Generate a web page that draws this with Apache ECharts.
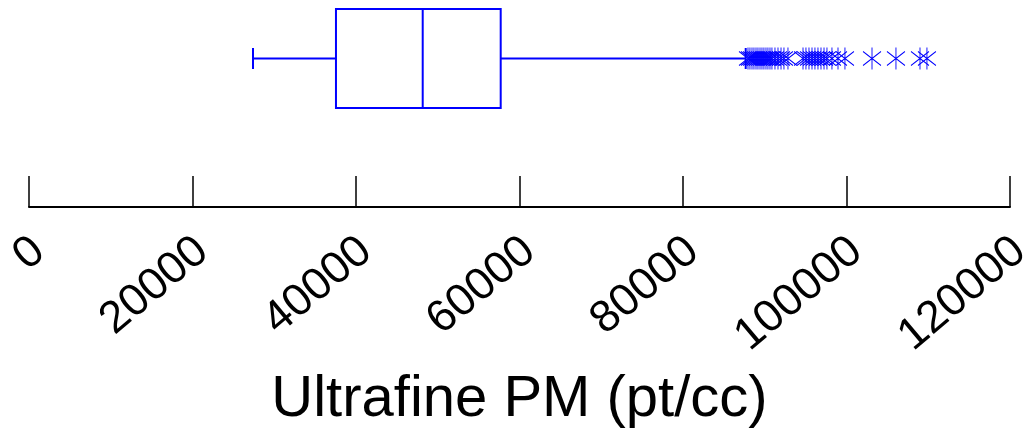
<!DOCTYPE html>
<html>
<head>
<meta charset="utf-8">
<script src="https://cdn.jsdelivr.net/npm/echarts@6/dist/echarts.min.js"></script>
<style>html,body{margin:0;padding:0;background:#fff}#c{width:1031px;height:432px}</style>
</head>
<body>
<div id="c"></div>
<script>
const categories = ['', 'Ultrafine PM'];
const boxStats = [27400, 37550, 48160, 57700, 87670]; // low whisker, Q1, median, Q3, high whisker
const outliers = [87950, 88190, 88440, 88680, 88930, 89170, 89420, 89660, 89900, 90150, 90390,
  90640, 90880, 91250, 91620, 91990, 92350, 92840, 94680, 95040, 95410, 95780, 96140, 96510,
  96880, 97250, 97610, 98220, 98960, 99810, 103120, 106050, 108990, 109840];
const tickValues = [0, 20000, 40000, 60000, 80000, 100000, 120000];
const axisTitle = 'Ultrafine PM (pt/cc)';

const chart = echarts.init(document.getElementById('c'));
const blue = '#0000ff';
chart.setOption({
  animation: false,
  grid: { left: 29, right: 21, top: 9, bottom: 225, containLabel: false, outerBoundsMode: 'none' },
  xAxis: {
    type: 'value', min: tickValues[0], max: tickValues[tickValues.length - 1], interval: 20000,
    axisLine: { show: true, lineStyle: { color: '#000', width: 2 } },
    axisTick: { show: true, inside: true, length: 31, lineStyle: { color: '#000', width: 1.5 } },
    splitLine: { show: false },
    axisLabel: { rotate: 40, margin: 47, fontSize: 45, color: '#000', fontFamily: 'Liberation Sans',
      padding: [0, -13, 0, 0], formatter: v => String(v) },
    name: axisTitle, nameLocation: 'middle', nameGap: 164,
    nameTextStyle: { fontSize: 58, color: '#000', fontFamily: 'Liberation Sans' }
  },
  yAxis: { type: 'category', data: categories, show: false },
  series: [
    {
      type: 'custom',
      data: [[1].concat(boxStats)],
      encode: { x: [1, 2, 3, 4, 5], y: 0 },
      renderItem: function (params, api) {
        const c = api.value(0);
        const p = [1, 2, 3, 4, 5].map(i => api.coord([api.value(i), c]));
        const y = p[0][1];
        const half = api.size([0, 1])[1] / 2;
        const cap = 10.5;
        const st = { stroke: blue, lineWidth: 2, fill: null };
        return {
          type: 'group',
          children: [
            { type: 'rect', shape: { x: p[1][0], y: y - half, width: p[3][0] - p[1][0], height: 2 * half }, style: { stroke: blue, lineWidth: 2, fill: 'none' } },
            { type: 'line', shape: { x1: p[2][0], y1: y - half, x2: p[2][0], y2: y + half }, style: st },
            { type: 'line', shape: { x1: p[0][0], y1: y, x2: p[1][0], y2: y }, style: st },
            { type: 'line', shape: { x1: p[3][0], y1: y, x2: p[4][0], y2: y }, style: st },
            { type: 'line', shape: { x1: p[0][0], y1: y - cap, x2: p[0][0], y2: y + cap }, style: st },
            { type: 'line', shape: { x1: p[4][0], y1: y - cap, x2: p[4][0], y2: y + cap }, style: st }
          ]
        };
      }
    },
    {
      type: 'scatter',
      data: outliers.map(v => [v, 1]),
      symbol: 'path://M9,0L9,22M0,4L18,18M0,18L18,4',
      symbolSize: [18, 22],
      itemStyle: { color: 'none', borderColor: blue, borderWidth: 1, opacity: 1 }
    }
  ]
});
</script>
</body>
</html>
